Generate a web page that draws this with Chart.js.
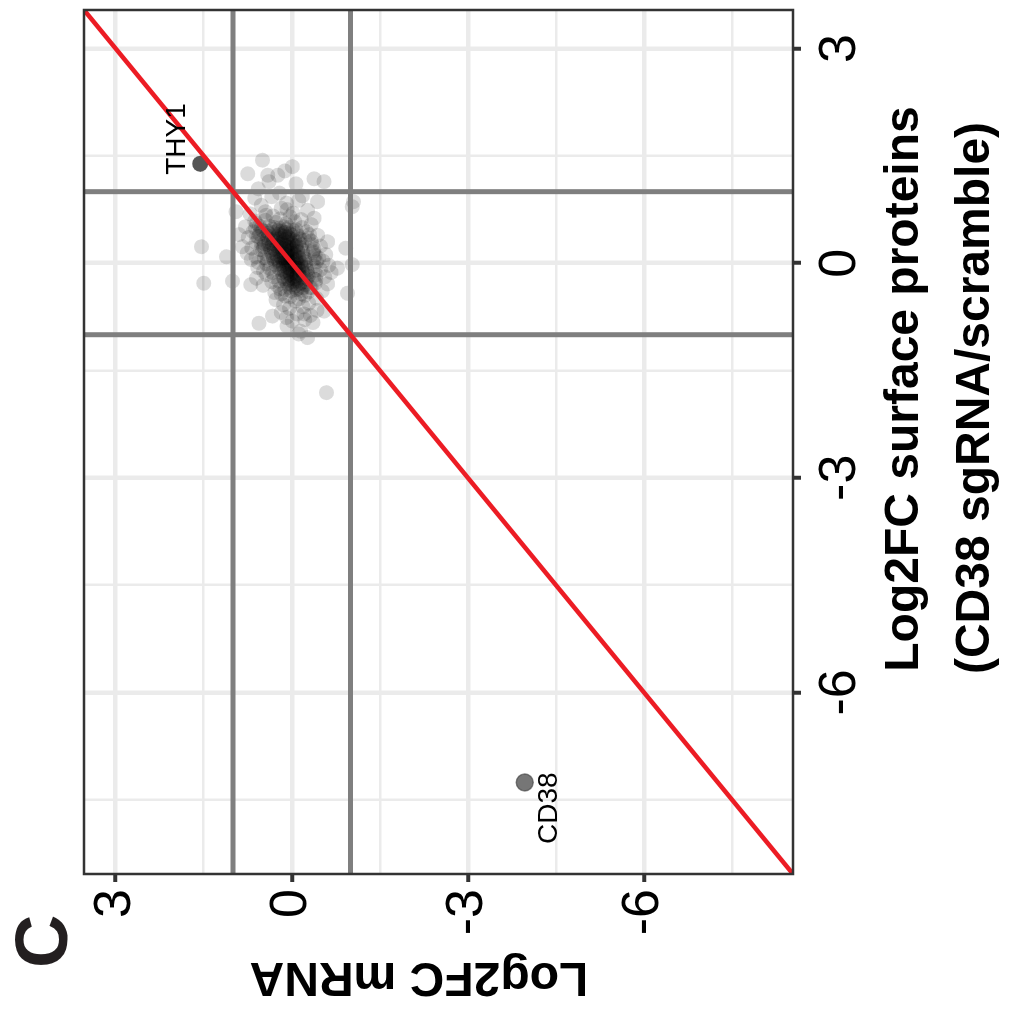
<!DOCTYPE html>
<html>
<head>
<meta charset="utf-8">
<script src="https://cdn.jsdelivr.net/npm/chart.js@4.4.1/dist/chart.umd.min.js"></script>
<style>
  html, body { margin: 0; padding: 0; background: #fff; overflow: hidden; }
  /* the plot is laid out upright, then turned a quarter turn counter-clockwise */
  #wrap { position: absolute; left: 0; top: 0; width: 1022px; height: 1009px;
          transform-origin: 0 0; transform: translateY(1022px) rotate(-90deg); }
</style>
</head>
<body>
<div id="wrap"><canvas id="scatter" width="1022" height="1009"></canvas></div>
<script>
const FONT = "'Liberation Sans', Arial, Helvetica, sans-serif";

// axis limits and ticks (same on both axes)
const axisMin = -8.54, axisMax = 3.54;
const majorTicks = [-6, -3, 0, 3];
const minorTicks = [-7.5, -4.5, -1.5, 1.5];
const cutoffs = [-1, 1];

const xTitleLines = ['Log2FC surface proteins', '(CD38 sgRNA/scramble)'];
const yTitle = 'Log2FC mRNA';
const panelTag = 'C';

// labelled genes
const geneNames = ['THY1', 'CD38'];
const geneSurface = [1.39, -7.26];
const geneMrna = [1.56, -3.97];

// all other genes: log2FC surface protein vs log2FC mRNA
const surfaceLog2FC = [
  // outer genes
  0.23, -0.28, 0.09, -0.25, 0.72, 1.44, 1.25, 1.35, 1.18, 1.14,
  0.86, 0.86, 0.79, 0.21, -0.02, -0.42, 0.30, -0.07, -0.67, -0.84,
  -0.95, 1.23, 1.23, 1.11, 1.14, 0.63, -0.30, 0.40, 0.23, -1.81,
  -0.99, -1.04, -0.88, -0.83, -0.74, -0.71, 0.98, 0.94, 1.04, 0.91,
  0.84, 1.29,
  0.93, 0.88, 0.81, 0.77, 0.74, 0.69, 0.67, 0.65, 0.61, 0.59,
  0.57, 0.54, 0.51, 0.48, 0.47, 0.44, 0.43, 0.39, 0.37, 0.36,
  0.32, 0.29, 0.27, 0.24, 0.21, 0.19, 0.17, 0.14, 0.12, 0.09,
  0.07, 0.05, 0.03, 0.01, -0.03, -0.06, -0.09, -0.11, -0.13, -0.16,
  -0.19, -0.21, -0.23, -0.26, -0.29, -0.31, -0.34, -0.36, -0.39, -0.41,
  -0.43, -0.46, -0.49, -0.51, -0.53, -0.56, -0.58, -0.61, -0.63, -0.66,
  -0.69, -0.71, -0.73, -0.76, -0.79, -0.81,
  0.62, 0.60, 0.58, 0.56, 0.55, 0.52, 0.50, 0.49, 0.46, 0.44,
  0.41, 0.40, 0.38, 0.35, 0.33, 0.31, 0.28, 0.26, 0.23, 0.20,
  0.18, 0.15, 0.13, 0.11, 0.08, 0.06, 0.04, 0.02, -0.01, -0.04,
  -0.07, -0.10, -0.13, -0.16, -0.19, -0.22, -0.25, -0.28, -0.31, -0.34,
  -0.37, -0.40, -0.43, -0.45, -0.47, -0.50, 0.66, 0.70, 0.72, 0.75,
  // central bulk
  0.50, 0.51, 0.49, 0.50, 0.52,
  0.46, 0.47, 0.45, 0.46, 0.47, 0.45,
  0.42, 0.41, 0.43, 0.42, 0.41, 0.43, 0.42,
  0.38, 0.39, 0.37, 0.38, 0.39, 0.37, 0.38, 0.39,
  0.34, 0.33, 0.35, 0.34, 0.33, 0.35, 0.34, 0.33, 0.35,
  0.30, 0.31, 0.29, 0.30, 0.31, 0.29, 0.30, 0.31, 0.29,
  0.26, 0.25, 0.27, 0.26, 0.25, 0.27, 0.26, 0.25, 0.27, 0.26,
  0.22, 0.23, 0.21, 0.22, 0.23, 0.21, 0.22, 0.23, 0.21, 0.22,
  0.18, 0.17, 0.19, 0.18, 0.17, 0.19, 0.18, 0.17, 0.19, 0.18,
  0.14, 0.15, 0.13, 0.14, 0.15, 0.13, 0.14, 0.15, 0.13, 0.14,
  0.10, 0.09, 0.11, 0.10, 0.09, 0.11, 0.10, 0.09, 0.11, 0.10,
  0.06, 0.07, 0.05, 0.06, 0.07, 0.05, 0.06, 0.07, 0.05, 0.06,
  0.02, 0.01, 0.03, 0.02, 0.01, 0.03, 0.02, 0.01, 0.03, 0.02,
  -0.02, -0.03, -0.01, -0.02, -0.03, -0.01, -0.02, -0.03, -0.01, -0.02,
  -0.06, -0.05, -0.07, -0.06, -0.05, -0.07, -0.06, -0.05, -0.07,
  -0.10, -0.11, -0.09, -0.10, -0.11, -0.09, -0.10, -0.11, -0.09,
  -0.14, -0.13, -0.15, -0.14, -0.13, -0.15, -0.14, -0.13,
  -0.18, -0.19, -0.17, -0.18, -0.19, -0.17, -0.18, -0.19,
  -0.22, -0.21, -0.23, -0.22, -0.21, -0.23, -0.22,
  -0.26, -0.27, -0.25, -0.26, -0.27, -0.25,
  -0.30, -0.29, -0.31, -0.30, -0.29,
  -0.34, -0.35, -0.33, -0.34,
  -0.38, -0.37, -0.39
];
const mrnaLog2FC = [
  // outer genes
  1.54, 1.50, 1.11, 1.01, 0.95, 0.50, 0.75, -0.01, -0.38, -0.55,
  -0.44, -1.05, -1.03, -0.92, -1.03, -0.95, -0.61, -0.78, -0.55, 0.56,
  -0.15, 0.41, 0.24, -0.07, 0.39, -0.38, 0.70, 0.90, 0.84, -0.59,
  -0.12, -0.27, 0.08, -0.36, 0.33, -0.21, 0.21, -0.18, 0.57, 0.63,
  0.09, 0.12,
  0.34, -0.12, 0.52, 0.18, -0.27, 0.71, 0.44, 0.03, -0.16, 0.63,
  0.27, -0.33, 0.79, 0.53, -0.07, 0.66, 0.12, -0.44, 0.57, 0.74,
  -0.22, 0.61, 0.47, -0.49, 0.68, 0.53, -0.37, 0.76, -0.58, 0.61,
  -0.46, 0.69, -0.53, 0.57, -0.63, 0.58, -0.49, 0.48, -0.67, 0.43,
  -0.56, 0.60, -0.41, 0.34, -0.61, 0.49, -0.31, 0.20, -0.52, 0.29,
  -0.16, 0.11, -0.42, 0.27, -0.06, -0.29, 0.14, -0.19, 0.04, -0.43,
  0.18, -0.09, -0.32, 0.09, -0.22, -0.01,
  0.20, 0.45, -0.05, 0.60, 0.10, 0.55, -0.18, 0.62, 0.50, -0.25,
  0.55, -0.30, 0.60, -0.28, 0.50, -0.33, 0.52, -0.35, 0.48, -0.38,
  0.50, -0.36, 0.45, -0.40, 0.47, -0.38, 0.42, -0.42, 0.43, -0.38,
  0.38, -0.40, 0.33, -0.42, 0.30, -0.38, 0.22, -0.40, 0.25, -0.33,
  0.12, -0.28, 0.18, -0.22, 0.03, -0.12, 0.32, -0.02, 0.45, 0.08,
  // central bulk
  0.05, 0.14, 0.21, 0.30, 0.38,
  -0.02, 0.09, 0.17, 0.24, 0.33, 0.42,
  -0.08, 0.03, 0.11, 0.16, 0.22, 0.31, 0.40,
  -0.11, -0.01, 0.07, 0.13, 0.18, 0.25, 0.33, 0.43,
  -0.14, -0.04, 0.04, 0.10, 0.15, 0.20, 0.27, 0.35, 0.41,
  -0.12, -0.05, 0.02, 0.08, 0.13, 0.18, 0.24, 0.31, 0.39,
  -0.17, -0.08, -0.01, 0.05, 0.10, 0.14, 0.19, 0.26, 0.33, 0.40,
  -0.15, -0.07, 0.00, 0.04, 0.09, 0.13, 0.18, 0.24, 0.30, 0.37,
  -0.18, -0.10, -0.03, 0.02, 0.07, 0.11, 0.16, 0.22, 0.29, 0.36,
  -0.19, -0.11, -0.04, 0.01, 0.06, 0.10, 0.15, 0.20, 0.27, 0.34,
  -0.20, -0.12, -0.06, 0.00, 0.04, 0.09, 0.13, 0.19, 0.25, 0.32,
  -0.22, -0.13, -0.07, -0.02, 0.03, 0.07, 0.12, 0.17, 0.24, 0.31,
  -0.23, -0.15, -0.08, -0.03, 0.02, 0.06, 0.10, 0.15, 0.22, 0.29,
  -0.24, -0.16, -0.10, -0.05, 0.00, 0.05, 0.09, 0.14, 0.20, 0.27,
  -0.25, -0.17, -0.11, -0.06, -0.01, 0.04, 0.08, 0.14, 0.22,
  -0.26, -0.18, -0.12, -0.07, -0.02, 0.02, 0.07, 0.13, 0.20,
  -0.27, -0.19, -0.12, -0.07, -0.02, 0.03, 0.09, 0.17,
  -0.28, -0.20, -0.13, -0.08, -0.03, 0.02, 0.08, 0.15,
  -0.26, -0.18, -0.11, -0.05, 0.00, 0.06, 0.13,
  -0.24, -0.16, -0.09, -0.03, 0.03, 0.10,
  -0.22, -0.14, -0.07, 0.00, 0.08,
  -0.19, -0.11, -0.04, 0.04,
  -0.16, -0.08, 0.01
];

const gridTicks = [...minorTicks, ...majorTicks].sort((a, b) => a - b);
const isMajor = v => majorTicks.includes(v);

function axisOptions(position, fitSize, pad) {
  return {
    type: 'linear',
    position: position,
    min: axisMin,
    max: axisMax,
    afterBuildTicks: s => { s.ticks = gridTicks.map(v => ({ value: v })); },
    afterFit: s => {
      if (position === 'bottom') s.height = fitSize; else s.width = fitSize;
    },
    border: { display: false },
    grid: {
      color: '#ebebeb',
      lineWidth: c => (c.tick && isMajor(c.tick.value)) ? 4.5 : 2.5,
      tickColor: c => (c.tick && isMajor(c.tick.value)) ? '#333333' : 'rgba(0,0,0,0)',
      tickWidth: c => (c.tick && isMajor(c.tick.value)) ? 4 : 0,
      tickLength: 8
    },
    ticks: {
      autoSkip: false,
      minRotation: 0,
      maxRotation: 0,
      padding: pad,
      color: '#000',
      font: { family: FONT, size: 52 },
      callback: v => isMajor(v) ? String(v) : ''
    }
  };
}

// straight guide lines, drawn through the scales
function segment(x0, y0, x1, y1, color, width) {
  return {
    data: [{ x: x0, y: y0 }, { x: x1, y: y1 }],
    showLine: true, borderColor: color, borderWidth: width,
    pointRadius: 0, pointHoverRadius: 0, clip: 0, fill: false
  };
}

const datasets = [
  Object.assign(segment(axisMin, axisMin, axisMax, axisMax, '#ec1c24', 4.5), { label: 'identity' })
];
cutoffs.forEach(v => {
  datasets.push(segment(v, axisMin, v, axisMax, '#7f7f7f', 5));
  datasets.push(segment(axisMin, v, axisMax, v, '#7f7f7f', 5));
});
datasets.push({
  label: 'genes',
  data: geneSurface.map((s, i) => ({ x: s, y: geneMrna[i] })),
  pointRadius: [8, 8.5],
  backgroundColor: ['#555555', 'rgba(88,88,88,0.82)'],
  borderColor: ['#555555', 'rgba(60,60,60,0.6)'],
  borderWidth: [0, 1.5]
});
datasets.push({
  label: 'background',
  data: surfaceLog2FC.map((s, i) => ({ x: s, y: mrnaLog2FC[i] })),
  pointRadius: 7.5,
  backgroundColor: 'rgba(0,0,0,0.14)',
  borderWidth: 0
});

const geneLabelStyle = [
  { align: 'left', dx: -11, dy: -15 },
  { align: 'right', dx: 10, dy: 32 }
];

const decorations = {
  id: 'decorations',
  afterDatasetsDraw(chart) {
    const { ctx, chartArea: a } = chart;
    ctx.save();
    ctx.strokeStyle = '#333333';
    ctx.lineWidth = 2.5;
    ctx.strokeRect(a.left, a.top, a.right - a.left, a.bottom - a.top);

    const idx = chart.data.datasets.findIndex(d => d.label === 'genes');
    const pts = chart.getDatasetMeta(idx).data;
    ctx.fillStyle = '#000';
    ctx.font = '28px ' + FONT;
    ctx.textBaseline = 'alphabetic';
    geneNames.forEach((name, i) => {
      const st = geneLabelStyle[i];
      ctx.textAlign = st.align;
      ctx.fillText(name, pts[i].x + st.dx, pts[i].y + st.dy);
    });
    ctx.restore();
  },
  afterDraw(chart) {
    const ctx = chart.ctx;
    ctx.save();
    ctx.fillStyle = '#000';
    ctx.font = 'bold 48px ' + FONT;
    ctx.textAlign = 'center';
    ctx.textBaseline = 'alphabetic';
    ctx.fillText(xTitleLines[0], 633, 918);
    ctx.fillText(xTitleLines[1], 624, 989);

    ctx.save();
    ctx.translate(59, 419);
    ctx.rotate(-Math.PI / 2);
    ctx.fillText(yTitle, 0, 0);
    ctx.restore();

    ctx.fillStyle = '#231f20';
    ctx.font = 'bold 74px ' + FONT;
    ctx.textAlign = 'left';
    ctx.fillText(panelTag, 54, 67);
    ctx.restore();
  }
};

new Chart(document.getElementById('scatter'), {
  type: 'scatter',
  data: { datasets: datasets },
  options: {
    responsive: false,
    animation: false,
    devicePixelRatio: 1,
    layout: { padding: { top: 84, right: 8, left: 0, bottom: 0 } },
    scales: {
      x: axisOptions('bottom', 216, 8),
      y: axisOptions('left', 148, 7)
    },
    plugins: {
      legend: { display: false },
      tooltip: { enabled: false }
    }
  },
  plugins: [decorations]
});
</script>
</body>
</html>
